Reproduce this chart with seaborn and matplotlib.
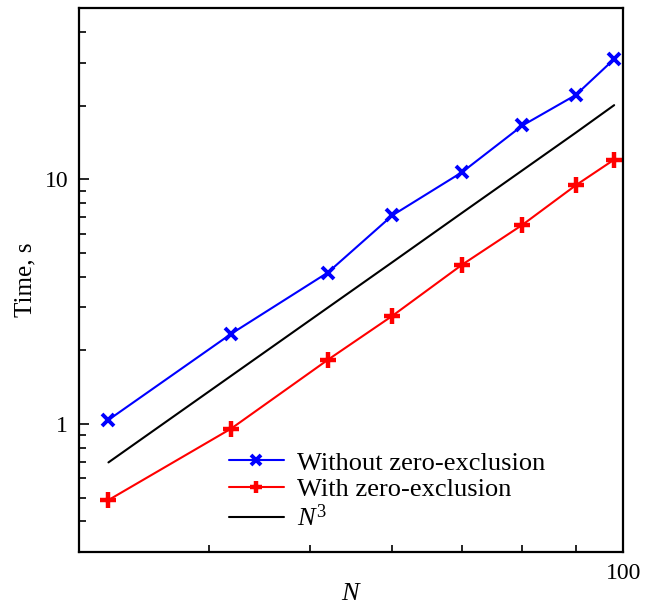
import matplotlib
matplotlib.use('Agg')
import matplotlib.pyplot as plt
import matplotlib.ticker as mticker
import seaborn as sns
import pandas as pd

# values
n_values = [32, 42, 52, 60, 70, 80, 90, 98]
time_without = [1.04, 2.34, 4.16, 7.13, 10.7, 16.6, 22.1, 31.0]
time_with = [0.489, 0.959, 1.83, 2.77, 4.48, 6.52, 9.45, 12.04]
n3_ref = [0.697, 1.576, 2.99, 4.59, 7.30, 10.89, 15.5, 20.1]

x_major = [100]
y_major = [1, 10]

df = pd.DataFrame({'N': n_values, 'without': time_without,
                   'with': time_with, 'n3': n3_ref})

sns.set_style('ticks')
plt.rcParams['font.family'] = ['Liberation Serif', 'DejaVu Serif']
plt.rcParams['mathtext.fontset'] = 'custom'
plt.rcParams['mathtext.rm'] = 'Liberation Serif'
plt.rcParams['mathtext.it'] = 'Liberation Serif:italic'
plt.rcParams['text.color'] = 'black'
plt.rcParams['axes.labelcolor'] = 'black'
plt.rcParams['xtick.color'] = 'black'
plt.rcParams['ytick.color'] = 'black'

fig = plt.figure(figsize=(6.53, 6.06), dpi=100)
ax = fig.add_axes([0.1214, 0.0891, 0.8331, 0.8972])

sns.lineplot(data=df, x='N', y='without', ax=ax, color='blue', lw=1.5,
             marker='x', markersize=9, markeredgewidth=2.8,
             markeredgecolor='blue', label='Without zero-exclusion')
sns.lineplot(data=df, x='N', y='with', ax=ax, color='red', lw=1.5,
             marker='+', markersize=11, markeredgewidth=3.2,
             markeredgecolor='red', label='With zero-exclusion')
sns.lineplot(data=df, x='N', y='n3', ax=ax, color='black', lw=1.5,
             label='$N^3$')

ax.set_xscale('log')
ax.set_yscale('log')
ax.set_xlim(30, 100)
ax.set_ylim(0.3, 50)

ax.xaxis.set_major_locator(mticker.FixedLocator(x_major))
ax.yaxis.set_major_locator(mticker.FixedLocator(y_major))
ax.xaxis.set_major_formatter(mticker.FuncFormatter(lambda v, p: '%g' % v))
ax.yaxis.set_major_formatter(mticker.FuncFormatter(lambda v, p: '%g' % v))
ax.xaxis.set_minor_locator(mticker.LogLocator(base=10, subs=range(2, 10)))
ax.yaxis.set_minor_locator(mticker.LogLocator(base=10, subs=range(2, 10)))
ax.xaxis.set_minor_formatter(mticker.NullFormatter())
ax.yaxis.set_minor_formatter(mticker.NullFormatter())

ax.tick_params(which='both', direction='in', top=False, right=False,
               labelsize=17, pad=8, width=1.2, color='black',
               labelcolor='black')
ax.tick_params(which='major', length=7)
ax.tick_params(which='minor', length=5)
for sp in ax.spines.values():
    sp.set_linewidth(1.6)
    sp.set_color('black')

ax.set_xlabel('$N$', fontsize=19, labelpad=-1)
ax.set_ylabel('Time, s', fontsize=18, labelpad=6)

ax.legend(loc='upper left', bbox_to_anchor=(0.255, 0.205), frameon=False,
          fontsize=19, handlelength=2.1, handletextpad=0.5,
          labelspacing=0.12, borderaxespad=0, markerscale=0.8)

fig.savefig('out.png', dpi=100)
